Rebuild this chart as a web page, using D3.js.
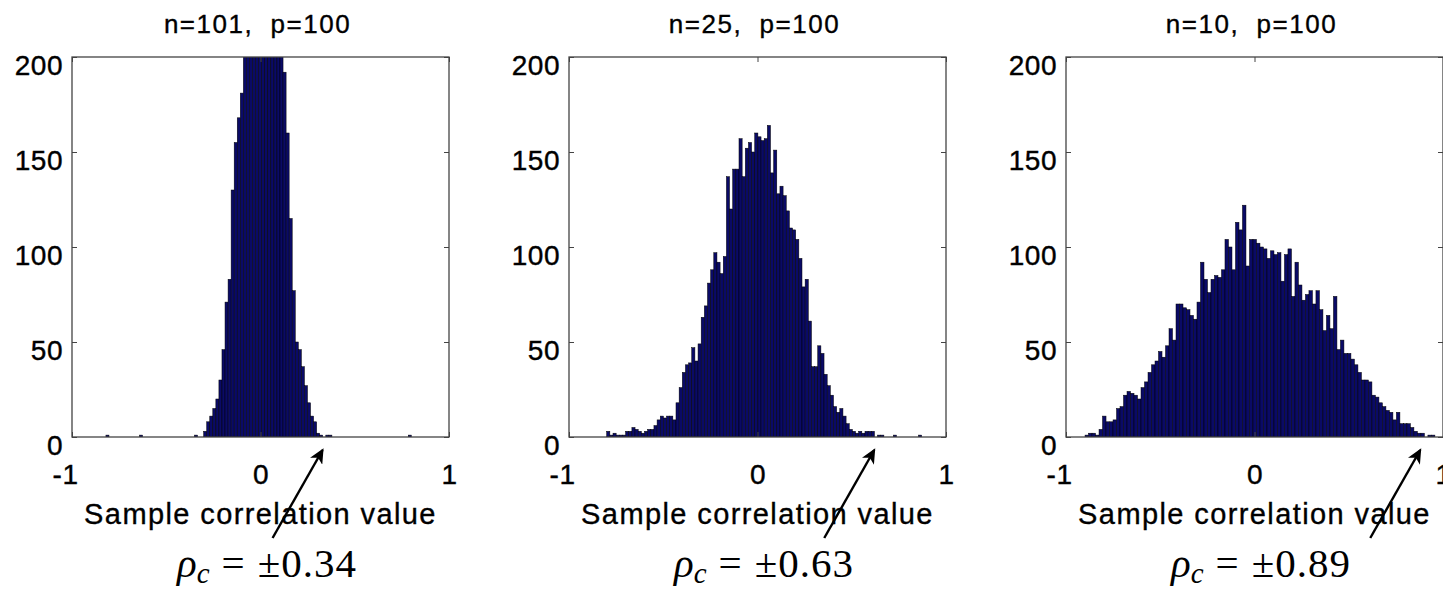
<!DOCTYPE html>
<meta charset="utf-8">
<title>Sample correlation histograms</title>
<style>

body {
  margin: 0;
  background: #fff;
}

text {
  font-family: "Liberation Sans", Arial, Helvetica, sans-serif;
  fill: #000;
}

.tick text {
  font-size: 28px;
  letter-spacing: 0.5px;
  stroke: #000;
  stroke-width: 0.4px;
}

.title {
  font-size: 26px;
  letter-spacing: 1.5px;
  white-space: pre;
  stroke: #000;
  stroke-width: 0.35px;
}

.xlabel {
  font-size: 29px;
  letter-spacing: 1.4px;
  stroke: #000;
  stroke-width: 0.35px;
}

.rho {
  font-family: "Liberation Serif", "DejaVu Serif", serif;
  font-size: 41px;
  white-space: pre;
}

</style>

<script src="https://d3js.org/d3.v7.min.js"></script>

<div id="chart"></div>

<script>

// ---- data ----
var panelTitles = ["n=101,  p=100", "n=25,  p=100", "n=10,  p=100"];
var xLabel = "Sample correlation value";
var xTicks = [-1, 0, 1];
var yTicks = [0, 50, 100, 150, 200];
var rhoC = [0.34, 0.63, 0.89];

// histogram range (first bin edge, last bin edge), 100 bins each
var binLo = [-0.82, -0.80, -0.899];
var binHi = [0.80, 0.871, 0.957];

// n=101 (bars above 200 are clipped by the axes)
var counts101 = [
  1, 0, 0, 0, 0, 0, 0, 0, 0, 0,
  0, 1, 0, 0, 0, 0, 0, 0, 0, 0,
  0, 0, 0, 0, 0, 0, 0, 0, 0, 1,
  0, 0, 3, 8, 11, 15, 20, 30, 46, 71,
  83, 130, 155, 168, 181, 212, 236, 262, 288, 305,
  318, 322, 315, 298, 276, 250, 228, 206, 192, 160,
  115, 77, 50, 46, 37, 27, 18, 11, 8, 2,
  1, 0, 1, 1, 0, 0, 0, 0, 0, 0,
  0, 0, 0, 0, 0, 0, 0, 0, 0, 0,
  0, 0, 0, 0, 0, 0, 0, 0, 0, 1
];

// n=25
var counts25 = [
  3, 1, 2, 1, 1, 1, 3, 3, 5, 4,
  3, 2, 3, 4, 4, 6, 9, 11, 10, 11,
  11, 9, 18, 26, 34, 38, 39, 47, 40, 49,
  63, 69, 81, 88, 97, 92, 86, 95, 137, 120,
  141, 141, 157, 137, 152, 155, 150, 160, 158, 156,
  157, 164, 139, 151, 128, 132, 127, 119, 110, 109,
  104, 94, 79, 83, 61, 37, 37, 48, 44, 33,
  27, 22, 16, 13, 15, 11, 7, 4, 3, 2,
  3, 2, 3, 3, 3, 0, 1, 1, 0, 0,
  0, 1, 0, 0, 0, 0, 0, 0, 0, 1
];

// n=10
var counts10 = [
  1, 2, 2, 1, 4, 11, 8, 8, 9, 15,
  16, 22, 24, 23, 22, 20, 26, 29, 34, 38,
  40, 45, 42, 48, 57, 51, 70, 70, 68, 67,
  64, 62, 71, 92, 83, 76, 83, 85, 84, 88,
  104, 100, 88, 113, 109, 122, 90, 104, 104, 102,
  100, 99, 94, 98, 96, 97, 82, 96, 99, 74,
  92, 80, 72, 75, 77, 70, 77, 67, 56, 64,
  57, 74, 46, 51, 44, 44, 41, 38, 34, 30,
  30, 29, 22, 21, 18, 16, 14, 13, 9, 13,
  7, 7, 7, 5, 3, 2, 2, 0, 1, 1
];

var allCounts = [counts101, counts25, counts10];

// ---- layout ----
var width = 1443,
    height = 589,
    firstLeft = 72,
    panelGap = 497,
    panelW = 377,
    panelTop = 57,
    panelH = 380;

var barFill = "#0a0a66",
    frameColor = "#444";

var svg = d3.select("#chart").append("svg")
    .attr("width", width)
    .attr("height", height);

var defs = svg.append("defs");

defs.append("marker")
    .attr("id", "arrowhead")
    .attr("markerUnits", "userSpaceOnUse")
    .attr("markerWidth", 16)
    .attr("markerHeight", 14)
    .attr("refX", 13)
    .attr("refY", 7)
    .attr("orient", "auto")
  .append("path")
    .attr("d", "M0,0 L15,7 L0,14 L4,7 Z")
    .attr("fill", "#000");

var y = d3.scaleLinear()
    .domain([0, 200])
    .range([panelTop + panelH, panelTop]);

allCounts.forEach(function (counts, i) {

  var left = firstLeft + i * panelGap,
      bottom = panelTop + panelH;

  var x = d3.scaleLinear()
      .domain([-1, 1])
      .range([left, left + panelW]);

  defs.append("clipPath")
      .attr("id", "clip" + i)
    .append("rect")
      .attr("x", left)
      .attr("y", panelTop)
      .attr("width", panelW)
      .attr("height", panelH);

  var binW = (binHi[i] - binLo[i]) / counts.length;
  var bins = counts.map(function (c, k) {
    return {x0: binLo[i] + k * binW, x1: binLo[i] + (k + 1) * binW, n: c};
  }).filter(function (d) { return d.n > 0; });

  var panel = svg.append("g");

  panel.append("g")
      .attr("clip-path", "url(#clip" + i + ")")
    .selectAll("rect")
      .data(bins)
      .enter().append("rect")
      .attr("x", function (d) { return x(d.x0); })
      .attr("width", function (d) { return x(d.x1) - x(d.x0); })
      .attr("y", function (d) { return y(d.n); })
      .attr("height", function (d) { return y(0) - y(d.n); })
      .attr("fill", barFill)
      .attr("stroke", "#000")
      .attr("stroke-width", 0.5);

  // axes, ticks pointing inward like matlab
  var xAxis = panel.append("g")
      .attr("transform", "translate(0," + bottom + ")")
      .call(d3.axisBottom(x).tickValues(xTicks).tickSizeInner(-5).tickSizeOuter(0)
            .tickPadding(27).tickFormat(function (d) { return String(d); }));

  xAxis.selectAll(".tick text")
      .attr("text-anchor", function (d) { return d < 0 ? "end" : "middle"; })
      .attr("dx", function (d) { return d < 0 ? 6 : 0; });

  panel.append("g")
      .attr("transform", "translate(0," + panelTop + ")")
      .call(d3.axisTop(x).tickValues(xTicks).tickSizeInner(-5).tickSizeOuter(0).tickFormat(""));

  panel.append("g")
      .attr("transform", "translate(" + left + ",0)")
      .call(d3.axisLeft(y).tickValues(yTicks).tickSizeInner(-5).tickSizeOuter(0).tickPadding(9))
    .selectAll(".tick text")
      .attr("dy", "0.64em");

  panel.append("g")
      .attr("transform", "translate(" + (left + panelW) + ",0)")
      .call(d3.axisRight(y).tickValues(yTicks).tickSizeInner(-5).tickSizeOuter(0).tickFormat(""));

  panel.selectAll(".domain").remove();
  panel.selectAll(".tick line").attr("stroke", frameColor);
  panel.selectAll(".tick text").attr("fill", "#000");

  panel.append("rect")
      .attr("x", left)
      .attr("y", panelTop)
      .attr("width", panelW)
      .attr("height", panelH)
      .attr("fill", "none")
      .attr("stroke", frameColor)
      .attr("stroke-width", 1.3);

  panel.append("text")
      .attr("class", "title")
      .attr("x", left + panelW / 2 - 3)
      .attr("y", 33)
      .attr("text-anchor", "middle")
      .text(panelTitles[i]);

  panel.append("text")
      .attr("class", "xlabel")
      .attr("x", left + panelW / 2)
      .attr("y", 524)
      .attr("text-anchor", "middle")
      .text(xLabel);

  // rho_c = ±value
  var rho = panel.append("text")
      .attr("class", "rho")
      .attr("x", left + 105)
      .attr("y", 577);
  rho.append("tspan").style("font-style", "italic").text("ρ");
  rho.append("tspan").style("font-style", "italic").style("font-size", "29px")
      .attr("dy", 6).text("c");
  rho.append("tspan").attr("dy", -6).attr("dx", 12).text("=");
  rho.append("tspan").attr("dx", 13).style("letter-spacing", "1px")
      .text("±" + rhoC[i].toFixed(2));

  // arrow pointing at the critical value on the axis
  panel.append("line")
      .attr("x1", x(rhoC[i]) - 52)
      .attr("y1", bottom + 101)
      .attr("x2", x(rhoC[i]) - 2)
      .attr("y2", bottom + 13)
      .attr("stroke", "#000")
      .attr("stroke-width", 2.4)
      .attr("marker-end", "url(#arrowhead)");
});

</script>
